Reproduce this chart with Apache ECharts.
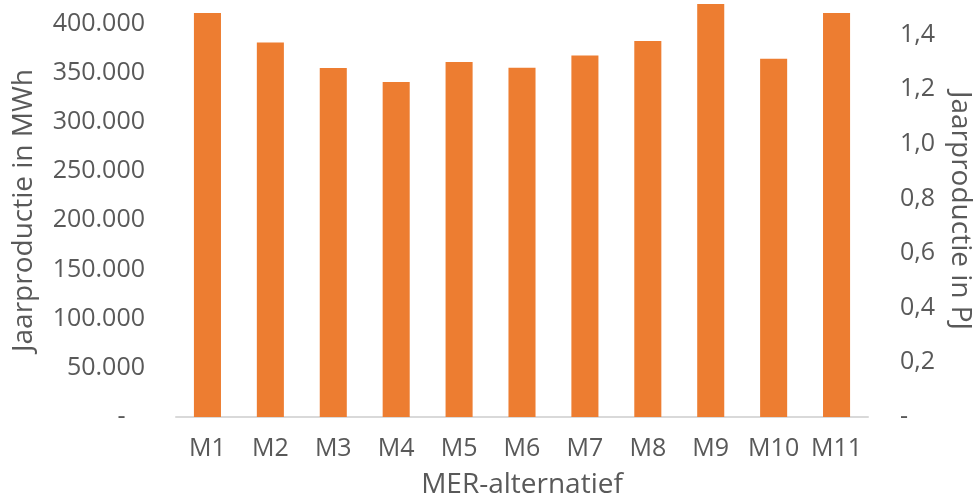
<!DOCTYPE html>
<html>
<head>
<meta charset="utf-8">
<script src="https://cdn.jsdelivr.net/npm/echarts@6/dist/echarts.min.js"></script>
<style>
  html, body { margin: 0; padding: 0; background: #fff; }
  #chart { width: 974px; height: 499px; }
</style>
</head>
<body>
<div id="chart"></div>
<script>
// MER-alternatieven en jaarproductie (MWh)
var categories = ['M1', 'M2', 'M3', 'M4', 'M5', 'M6', 'M7', 'M8', 'M9', 'M10', 'M11'];
var productieMWh = [410800, 380900, 354800, 340800, 360900, 355100, 367600, 382300, 420000, 364300, 410800];
var mwhPerPJ = 277777.78;

var leftMax = 420000;
var rightMax = leftMax / mwhPerPJ;

var textColor = '#595959';
var fontFam = '"Open Sans", "Noto Sans", sans-serif';

var chart = echarts.init(document.getElementById('chart'));
chart.setOption({
  animation: false,
  textStyle: { fontFamily: fontFam },
  grid: {
    left: 176,
    right: 106,
    top: 4,
    bottom: 82,
    containLabel: false,
    outerBoundsMode: 'none'
  },
  xAxis: {
    type: 'category',
    data: categories,
    name: 'MER-alternatief',
    nameLocation: 'middle',
    nameGap: 54,
    nameTextStyle: { color: textColor, fontSize: 28, fontFamily: fontFam },
    axisLine: { lineStyle: { color: '#D9D9D9', width: 2 } },
    axisTick: { show: false },
    axisLabel: { color: textColor, fontSize: 25, margin: 19, interval: 0, fontFamily: fontFam }
  },
  yAxis: [
    {
      type: 'value',
      min: 0,
      max: leftMax,
      interval: 50000,
      name: 'Jaarproductie in MWh',
      nameLocation: 'middle',
      nameGap: 138,
      nameTextStyle: { color: textColor, fontSize: 28, fontFamily: fontFam },
      splitLine: { show: false },
      axisLine: { show: false },
      axisTick: { show: false },
      axisLabel: {
        color: textColor,
        fontSize: 25,
        margin: 31,
        showMaxLabel: false,
        fontFamily: fontFam,
        formatter: function (v) {
          if (v === 0) return '-   ';
          if (v % 50000 !== 0) return '';
          return String(v).replace(/\B(?=(\d{3})+(?!\d))/g, '.');
        }
      }
    },
    {
      type: 'value',
      position: 'right',
      min: 0,
      max: rightMax,
      interval: 0.2,
      name: 'Jaarproductie in PJ',
      nameLocation: 'middle',
      nameRotate: -90,
      nameGap: 72,
      nameTextStyle: { color: textColor, fontSize: 28, fontFamily: fontFam },
      splitLine: { show: false },
      axisLine: { show: false },
      axisTick: { show: false },
      axisLabel: {
        color: textColor,
        fontSize: 25,
        margin: 32,
        showMaxLabel: false,
        fontFamily: fontFam,
        formatter: function (v) {
          if (Math.abs(v) < 1e-9) return '-';
          var r = Math.round(v * 5) / 5;
          if (Math.abs(r - v) > 1e-6) return '';
          return r.toFixed(1).replace('.', ',');
        }
      }
    }
  ],
  series: [
    {
      name: 'Jaarproductie',
      type: 'bar',
      data: productieMWh,
      yAxisIndex: 0,
      barWidth: '43%',
      itemStyle: { color: '#ED7D31' }
    }
  ]
});
</script>
</body>
</html>
